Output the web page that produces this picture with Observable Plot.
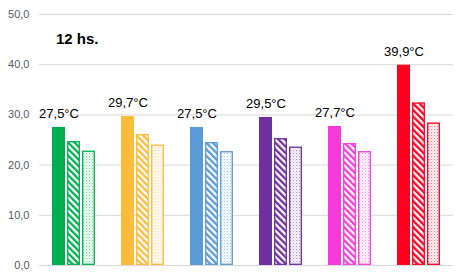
<!DOCTYPE html>
<html><head><meta charset="utf-8">
<script src="https://cdn.jsdelivr.net/npm/d3@7"></script>
<script src="https://cdn.jsdelivr.net/npm/@observablehq/plot@0.6"></script>
<style>
body{margin:0;background:#fff;}
#wrap{position:relative;width:460px;height:278px;font-family:"Liberation Sans",Arial,sans-serif;}
#title{position:absolute;left:56px;top:30px;font-size:15px;font-weight:bold;color:#000;}
</style></head>
<body><div id="wrap"><div id="title">12 hs.</div></div>
<script>
const groups = ["G1","G2","G3","G4","G5","G6"];
const colors = ["#00B050","#FFBB3C","#5B9BD5","#7030A0","#F73BDA","#FF0020"];
const series = ["solid","hatch","dots"];
const solidVals = [27.5, 29.7, 27.5, 29.5, 27.7, 39.9];
const hatchVals = [24.7, 26.1, 24.5, 25.3, 24.3, 32.4];
const dotVals   = [22.8, 24.0, 22.7, 23.6, 22.7, 28.4];
const yTicks = [0, 10, 20, 30, 40, 50];

const data = [];
groups.forEach((g, i) => {
  data.push({g, i, s: "solid", v: solidVals[i]});
  data.push({g, i, s: "hatch", v: hatchVals[i]});
  data.push({g, i, s: "dots", v: dotVals[i]});
});
const fmt = v => d3.format(".1f")(v).replace(".", ",");

const chart = Plot.plot({
  width: 460, height: 278,
  marginLeft: 37, marginRight: 5, marginTop: 14, marginBottom: 13,
  style: {fontFamily: "Liberation Sans, Arial, sans-serif", background: "#fff"},
  fx: {domain: groups, padding: 0, axis: null},
  x: {domain: series, paddingInner: 0.15, paddingOuter: 0.85, axis: null},
  y: {domain: [0, 50], axis: null},
  color: {type: "identity"},
  marks: [
    Plot.ruleY(yTicks, {stroke: "#d9d9d9", strokeWidth: 1}),
    Plot.axisY({ticks: yTicks, tickFormat: fmt, tickSize: 0, tickPadding: 10, fontSize: 11, color: "#595959", anchor: "left", label: null}),
    Plot.barY(data.filter(d => d.s === "solid"), {fx: "g", x: "s", y: "v", fill: d => colors[d.i]}),
    Plot.barY(data.filter(d => d.s !== "solid"), {fx: "g", x: "s", y: "v",
      fill: d => `url(#p-${d.s}-${d.i})`, stroke: d => colors[d.i], strokeWidth: 1.3, inset: 0.7}),
    Plot.text(data.filter(d => d.s === "solid"), {fx: "g", x: "s", y: "v", text: d => fmt(d.v) + "°C",
      dy: -9, lineAnchor: "bottom", fontSize: 13, fill: "#000"})
  ]
});

// pattern defs
const ns = "http://www.w3.org/2000/svg";
const defs = document.createElementNS(ns, "defs");
colors.forEach((c, i) => {
  const ph = document.createElementNS(ns, "pattern");
  ph.setAttribute("id", `p-hatch-${i}`);
  ph.setAttribute("patternUnits", "userSpaceOnUse");
  ph.setAttribute("width", "4.6"); ph.setAttribute("height", "4.6");
  ph.setAttribute("patternTransform", "rotate(-45)");
  ph.innerHTML = `<rect width="4.6" height="4.6" fill="#fff"/><rect width="2.3" height="4.6" fill="${c}"/>`;
  defs.appendChild(ph);
  const pd = document.createElementNS(ns, "pattern");
  pd.setAttribute("id", `p-dots-${i}`);
  pd.setAttribute("patternUnits", "userSpaceOnUse");
  pd.setAttribute("width", "3"); pd.setAttribute("height", "3");
  pd.innerHTML = `<rect width="3" height="3" fill="#fff"/><rect width="1.2" height="1.2" fill="${c}" fill-opacity="0.55"/><rect x="1.5" y="1.5" width="1.2" height="1.2" fill="${c}" fill-opacity="0.35"/>`;
  defs.appendChild(pd);
});
chart.insertBefore(defs, chart.firstChild);
document.getElementById("wrap").appendChild(chart);
</script>
</body></html>
